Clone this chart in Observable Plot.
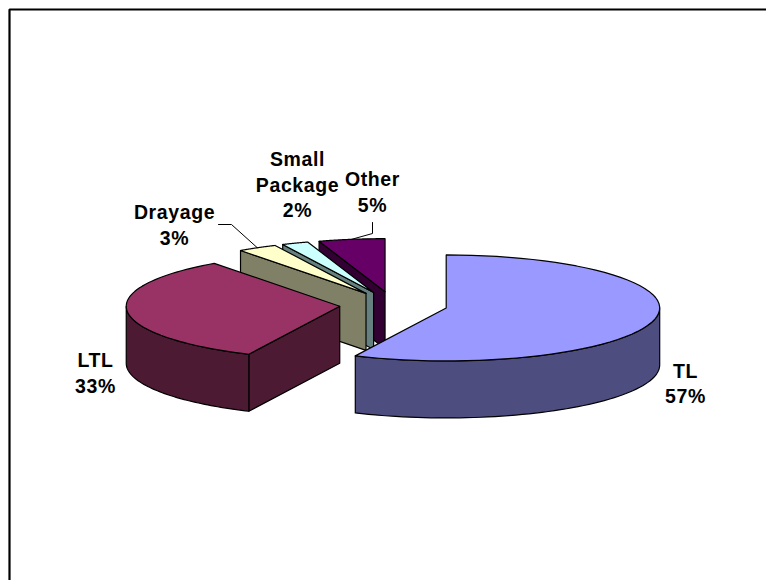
<!DOCTYPE html>
<html><head><meta charset="utf-8">
<style>html,body{margin:0;padding:0;background:#fff}svg{display:block}svg text{letter-spacing:0.6px}</style>
<script src="https://cdn.jsdelivr.net/npm/d3@7"></script>
<script src="https://cdn.jsdelivr.net/npm/@observablehq/plot@0.6"></script>
</head><body><div id="c"></div>
<script>
const categories = ["TL","LTL","Drayage","Small\nPackage","Other"];
const shares = [57,33,3,2,5];
const topColors = ["#9999ff","#993366","#ffffcc","#ccffff","#660066"];
const sideColors = ["#4d4d80","#4d1a33","#808066","#668080","#330033"];

const W=766,H=580;
const geo={cx:393,cy:304.5,rx:213.5,ry:53,depth:57,ex:54,ey:13.5};
const labelPos=[[685,382],[95,371.5],[174,223.5],[297,183],[372,190.5]];
const leaders={2:[[231,224],[218,224]],4:[[372,233],[372,222]]};

const rad=d=>d*Math.PI/180;
const total=d3.sum(shares);
let acc=0;
const slices=shares.map((v,i)=>{
  const a=acc/total*360; acc+=v; const b=acc/total*360; const m=(a+b)/2;
  return {i,a,b,m,
    cx:geo.cx+geo.ex*Math.sin(rad(m)),
    cy:geo.cy-geo.ey*Math.cos(rad(m))};
});
const rim=(s,t,dz=0)=>[s.cx+geo.rx*Math.sin(rad(t)),s.cy-geo.ry*Math.cos(rad(t))+dz];
const arc=(s,a,b,dz=0)=>d3.range(0,61).map(k=>rim(s,a+(b-a)*k/60,dz));
const closed=p=>[...p,p[0]];
const poly=(pts,fill)=>Plot.line(closed(pts),{x:d=>d[0],y:d=>d[1],fill,stroke:"#000",strokeWidth:1.2,curve:"linear"});

const marks=[];
// frame: top and left rules
marks.push(Plot.line([[9,580],[9,9],[W,9]],{x:d=>d[0],y:d=>d[1],stroke:"#000",strokeWidth:2.2,strokeLinejoin:"miter"}));
// painter's order: back slices first
for(const idx of [4,3,2,1,0]){
  const s=slices[idx], c=sideColors[idx];
  const apex=[s.cx,s.cy], apexB=[s.cx,s.cy+geo.depth];
  const wall=t=>{const p=rim(s,t),q=rim(s,t,geo.depth);return poly([apex,p,q,apexB],c)};
  if(Math.sin(rad(s.a))<-1e-6) marks.push(wall(s.a));
  if(Math.sin(rad(s.b))>1e-6) marks.push(wall(s.b));
  const lo=Math.max(s.a,90),hi=Math.min(s.b,270);
  if(hi>lo) marks.push(poly([...arc(s,lo,hi),...arc(s,hi,lo,geo.depth)],c));
  marks.push(poly([apex,...arc(s,s.a,s.b)],topColors[idx]));
}
// leader lines start from each slice's rim
for(const k of Object.keys(leaders)){
  const s=slices[k];
  marks.push(Plot.line([rim(s,s.m),...leaders[k]],{x:d=>d[0],y:d=>d[1],stroke:"#000",strokeWidth:1}));
}
marks.push(Plot.text(categories.map((c,i)=>({t:`${c}\n${shares[i]}%`,p:labelPos[i]})),{
  x:d=>d.p[0],y:d=>d.p[1],text:d=>d.t,lineHeight:1.31,lineAnchor:"middle",textAnchor:"middle",
  fontFamily:"Liberation Sans",fontWeight:"bold",fontSize:19.5,fill:"#000"
}));

document.getElementById("c").append(Plot.plot({
  width:W,height:H,margin:0,
  x:{domain:[0,W],range:[0,W],axis:null},
  y:{domain:[0,H],range:[0,H],axis:null},
  marks
}));
</script></body></html>
